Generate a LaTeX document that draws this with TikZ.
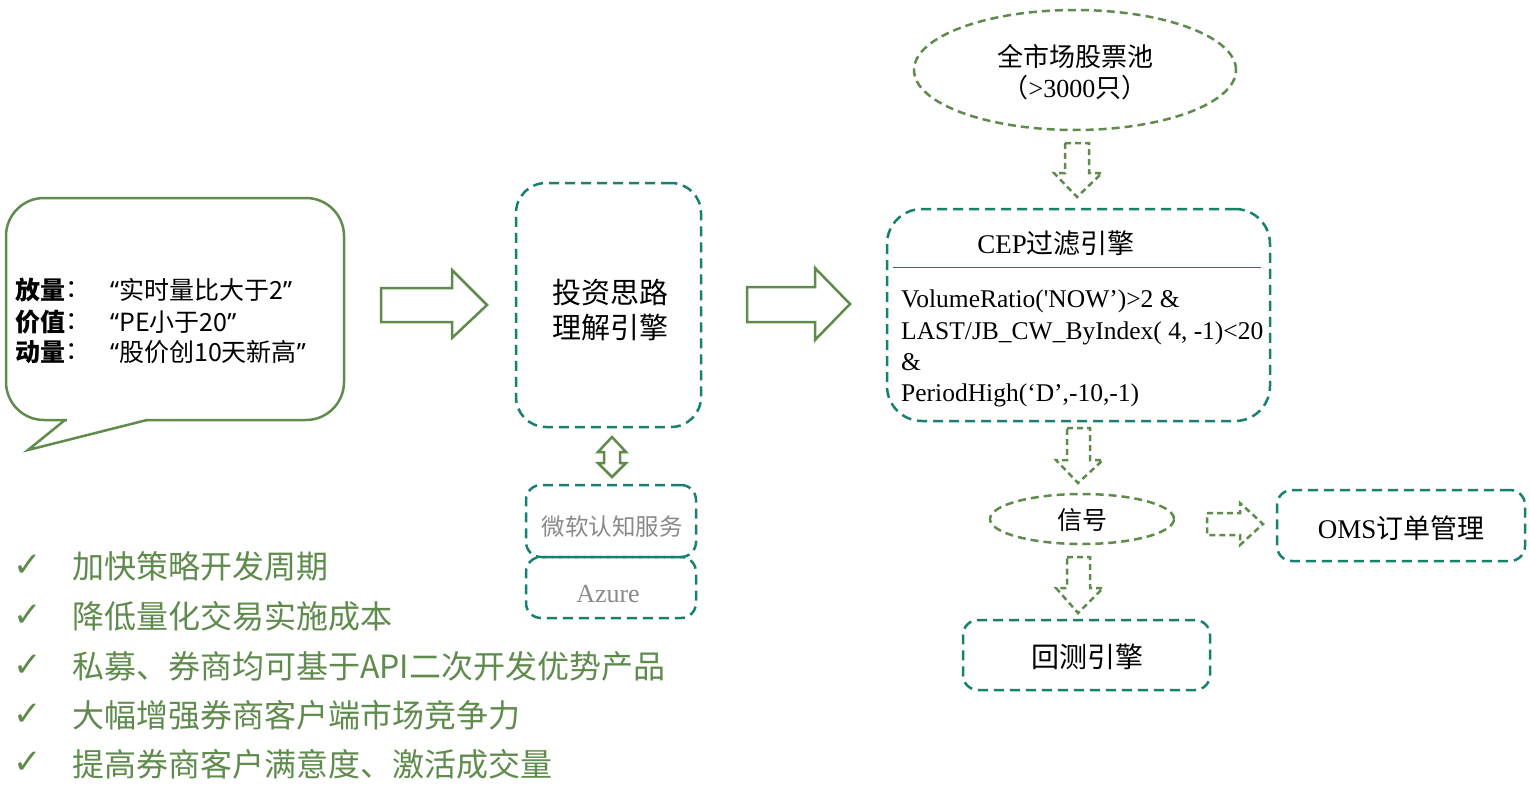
\documentclass[tikz,border=0pt]{standalone}
\usepackage{fontspec}
\setmainfont{Liberation Serif}
\newfontfamily\rawserif{Liberation Serif}[Ligatures=TeXOff]
\newfontfamily\cjk{Noto Sans CJK SC}
\newfontfamily\symf{DejaVu Sans}
\newfontfamily\qtf{Noto Sans}
\usetikzlibrary{shapes.geometric}
\definecolor{teal2}{HTML}{16826E}
\definecolor{olive2}{HTML}{5F8B4C}
\definecolor{gray2}{HTML}{8A8A8A}
\newcommand{\fsz}[2]{\fontsize{#1}{#2}\selectfont}
\tikzset{
  tbox/.style={draw=teal2, line width=2.5pt, dash pattern=on 10pt off 6pt, rounded corners=#1, inner sep=0pt},
  tbox/.default=15pt,
  gell/.style={ellipse, draw=olive2, line width=2.5pt, dash pattern=on 8pt off 5pt, inner sep=0pt},
  darrow/.style={draw=olive2, line width=2.5pt, dash pattern=on 6pt off 4pt, line join=miter},
  barrow/.style={draw=olive2, line width=2.5pt, line join=miter},
  lbl/.style={inner sep=0pt, text=black},
  listtxt/.style={inner sep=0pt, anchor=west, text=olive2, font=\cjk\fsz{32}{32}},
  chk/.style={inner sep=0pt, text=olive2, font=\symf\fsz{34}{34}},
}
\begin{document}
\begin{tikzpicture}[x=1pt,y=-1pt]
\useasboundingbox (0,0) rectangle (1530,784);
\fill[white] (0,0) rectangle (1530,784);

% speech bubble
\draw[olive2, line width=2.5pt, rounded corners=38pt] (100,420) -- (344,420) -- (344,198) -- (6,198) -- (6,420) -- (100,420);
\fill[white] (67,417) rectangle (145,423);
\draw[olive2, line width=2.5pt, line join=miter] (65,420) -- (28,450) -- (147,420);
\node[lbl, anchor=west] (k1) at (15,290) {\cjk\fsz{25}{25}\bfseries 放量};
\node[lbl, anchor=west] (c1) at (k1.east) {\cjk\fsz{25}{25}：};
\node[lbl, anchor=west] (v1) at (110,290) {\cjk\fsz{25}{25}{\qtf “}实时量比大于2{\qtf ”}};
\node[lbl, anchor=west] (k2) at (15,322) {\cjk\fsz{25}{25}\bfseries 价值};
\node[lbl, anchor=west] (c2) at (k2.east) {\cjk\fsz{25}{25}：};
\node[lbl, anchor=west] (v2) at (110,322) {\cjk\fsz{25}{25}{\qtf “}PE小于20{\qtf ”}};
\node[lbl, anchor=west] (k3) at (15,352) {\cjk\fsz{25}{25}\bfseries 动量};
\node[lbl, anchor=west] (c3) at (k3.east) {\cjk\fsz{25}{25}：};
\node[lbl, anchor=west] (v3) at (110,352) {\cjk\fsz{25}{25}{\qtf “}股价创10天新高{\qtf ”}};

% big arrows
\draw[barrow] (381,288) -- (452,288) -- (452,270) -- (487,305) -- (452,338) -- (452,322) -- (381,322) -- cycle;
\draw[barrow] (747,287) -- (815,287) -- (815,268) -- (850,304) -- (815,340) -- (815,322) -- (747,322) -- cycle;

% engine box
\node[tbox=30pt, minimum width=185pt, minimum height=244pt] (eng) at (608.5,305) {};
\node[lbl, align=center, font=\cjk\fsz{29}{35}] (engt) at (610,310) {投资思路\\理解引擎};

% double arrow
\draw[barrow] (612,437) -- (626,452) -- (620,452) -- (620,463) -- (626,463) -- (612,477) -- (598,463) -- (604,463) -- (604,452) -- (598,452) -- cycle;

% ms / azure
\node[tbox, minimum width=170pt, minimum height=72pt] (ms) at (611,521) {};
\node[lbl, text=gray2, font=\cjk\fsz{23.5}{23.5}] (mst) at (612,527) {微软认知服务};
\node[tbox, minimum width=170pt, minimum height=61pt] (az) at (611,587.5) {};
\node[lbl, text=gray2, font=\fsz{26}{26}] (azt) at (608,594) {Azure};

% stock pool
\node[gell, minimum width=322pt, minimum height=120pt] (pool) at (1075,70) {};
\node[lbl, align=center, font=\fsz{26}{31}] (poolt) at (1075,72.5) {{\cjk 全市场股票池}\\{\cjk （}>3000{\cjk 只）}};

\draw[darrow] (1065,143) -- (1089,143) -- (1089,173) -- (1102,173) -- (1077,197) -- (1054,173) -- (1065,173) -- cycle;

% CEP box
\node[tbox=35pt, minimum width=383pt, minimum height=212pt] (cep) at (1078.5,315) {};
\node[lbl, font=\fsz{27}{27}] (cept) at (1056,243) {CEP{\cjk 过滤引擎}};
\draw[teal2, line width=1pt] (893,267) -- (1261,267);
\node[lbl, anchor=north west, align=left, font=\rawserif\fsz{25.5}{31.3}] (cepb) at (901,290) {VolumeRatio('NOW’)>2 \&\\LAST/JB\_CW\_ByIndex( 4, -1)<20\\\&\\PeriodHigh(‘D’,-10,-1)};

\draw[darrow] (1067,428) -- (1090,428) -- (1090,460) -- (1103,460) -- (1078,483) -- (1056,460) -- (1067,460) -- cycle;

% signal
\node[gell, minimum width=184pt, minimum height=50pt] (sig) at (1082,519) {};
\node[lbl, font=\cjk\fsz{25}{25}] (sigt) at (1082,520) {信号};

\draw[darrow] (1207,513) -- (1240,513) -- (1240,503) -- (1263,524) -- (1240,545) -- (1240,535) -- (1207,535) -- cycle;
\draw[darrow] (1067,557) -- (1090,557) -- (1090,588) -- (1103,588) -- (1078,613) -- (1056,588) -- (1067,588) -- cycle;

% OMS
\node[tbox, minimum width=248pt, minimum height=71pt] (oms) at (1401,525.5) {};
\node[lbl, font=\fsz{27}{27}] (omst) at (1401,528) {OMS{\cjk 订单管理}};

% backtest
\node[tbox, minimum width=247pt, minimum height=70pt] (bt) at (1086.5,655) {};
\node[lbl, font=\cjk\fsz{28}{28}] (btt) at (1087,657) {回测引擎};

% list
\node[chk] (ck1) at (28,566) {✓};
\node[listtxt] (t1) at (72,566) {加快策略开发周期};
\node[chk] (ck2) at (28,616) {✓};
\node[listtxt] (t2) at (72,616) {降低量化交易实施成本};
\node[chk] (ck3) at (28,666) {✓};
\node[listtxt] (t3) at (72,666) {私募、券商均可基于API二次开发优势产品};
\node[chk] (ck4) at (28,715) {✓};
\node[listtxt] (t4) at (72,715) {大幅增强券商客户端市场竞争力};
\node[chk] (ck5) at (28,763) {✓};
\node[listtxt] (t5) at (72,764) {提高券商客户满意度、激活成交量};
\end{tikzpicture}
\end{document}
